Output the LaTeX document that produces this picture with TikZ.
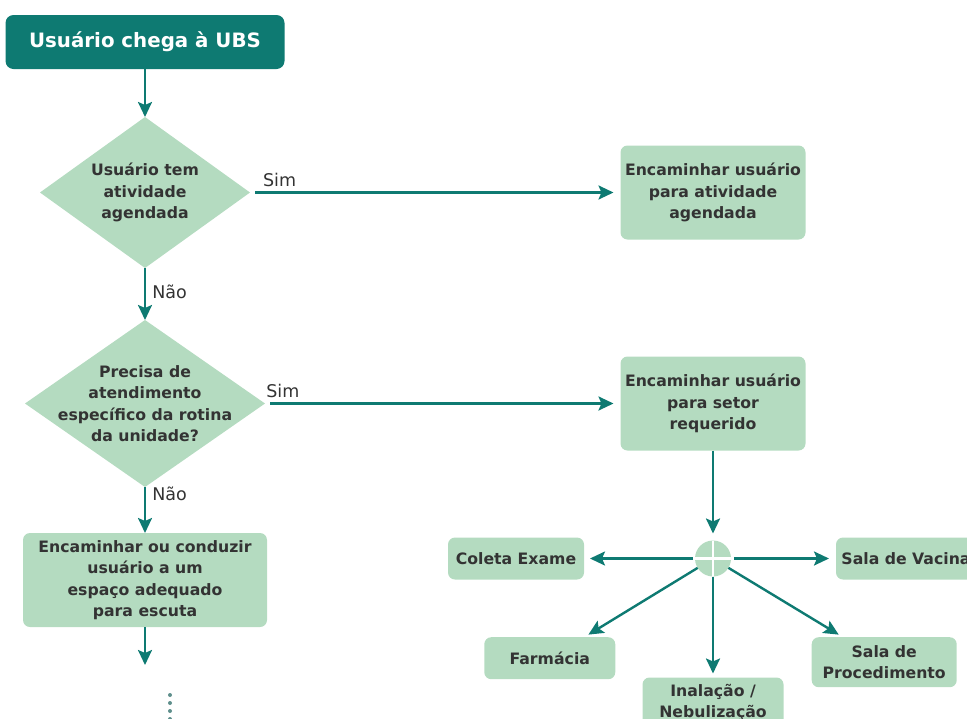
\documentclass[tikz,border=0pt]{standalone}
\usepackage{fontspec}
\setmainfont{DejaVu Sans}
\usetikzlibrary{positioning,shapes.geometric,arrows.meta}

\definecolor{ubsteal}{HTML}{0E7A72}
\definecolor{ubsgreen}{HTML}{B4DBC0}
\definecolor{ubstext}{HTML}{333333}
\definecolor{ubsdots}{HTML}{5F8F8C}

\begin{document}
\begin{tikzpicture}[x=1pt,y=1pt,
					>={Stealth[length=15pt,width=14pt,inset=3pt]},
					line width=2.4pt,
					every node/.style={outer sep=0pt},
					box font/.style={font=\bfseries\fontsize{15.7}{21.5}\selectfont},
					start node/.style={rectangle,rounded corners=8pt,fill=ubsteal,text=white,
						font=\bfseries\fontsize{19.8}{23}\selectfont,
						minimum width=279pt,minimum height=54pt},
					decision node/.style={diamond,fill=ubsgreen,text=ubstext,box font,
						align=center,inner sep=-10pt},
					task node/.style={rectangle,rounded corners=7pt,fill=ubsgreen,text=ubstext,
						box font,align=center,minimum height=94pt},
					room node/.style={rectangle,rounded corners=7pt,fill=ubsgreen,text=ubstext,
						box font,align=center,minimum height=42pt},
					hub node/.style={circle,fill=ubsgreen,minimum size=36pt,inner sep=0pt,
						path picture={\draw[white,line width=2.5pt]
							(path picture bounding box.north) -- (path picture bounding box.south)
							(path picture bounding box.west) -- (path picture bounding box.east);}},
					answer/.style={font=\fontsize{17.5}{20}\selectfont,text=ubstext}]

  \useasboundingbox (0,0) rectangle (967,-718);

  % main column
  \node[start node] (start) at (145,-42) {Usuário chega à UBS};
  \node[decision node,aspect=1.4,minimum width=210pt,minimum height=151pt] (q1) [below=48pt of start]
    {Usuário tem\\atividade\\agendada};
  \node[decision node,aspect=1.44,minimum width=240pt,minimum height=167pt] (q2) [below=52pt of q1]
    {Precisa de\\atendimento\\específico da rotina\\da unidade?};
  \node[task node,minimum width=244pt] (listen) [below=46pt of q2]
    {Encaminhar ou conduzir\\usuário a um\\espaço adequado\\para escuta};
  \coordinate[below=38pt of listen] (next);

  % right column
  \node[task node,minimum width=185pt] (agenda) [right=370.5pt of q1]
    {Encaminhar usuário\\para atividade\\agendada};
  \node[task node,minimum width=185pt] (sector) [right=355.5pt of q2]
    {Encaminhar usuário\\para setor\\requerido};
  \node[hub node] (hub) [below=90pt of sector] {};

  % sectors
  \node[room node,minimum width=136pt] (exam) [left=111pt of hub] {Coleta Exame};
  \node[room node,minimum width=140pt] (vaccine) [right=105pt of hub] {Sala de Vacina};
  \node[room node,minimum width=131pt] (pharmacy) [below left=66pt and 85pt of hub] {Farmácia};
  \node[room node,minimum width=141pt,minimum height=50pt] (inhal) [below=101pt of hub]
    {Inalação /\\Nebulização};
  \node[room node,minimum width=145pt,minimum height=50pt] (proc) [below right=66pt and 86pt of hub]
    {Sala de\\Procedimento};

  \path[->,ubsteal]
    (start)  edge (q1)
    (q1)     edge node[answer,right,pos=0.45,xshift=4pt] {Não} (q2)
             edge[shorten <=5pt,shorten >=7pt] node[answer,above,pos=0.08,yshift=2pt] {Sim} (agenda)
    (q2)     edge node[answer,right,pos=0.15,xshift=4pt] {Não} (listen)
             edge[shorten <=5pt,shorten >=7pt] node[answer,above,pos=0.05,yshift=2pt] {Sim} (sector)
    (listen) edge (next)
    (sector) edge[shorten >=7pt] (hub)
    (hub)    edge[shorten <=2pt,shorten >=6pt] (exam)
             edge[shorten <=3pt,shorten >=7pt] (vaccine)
             edge[shorten >=5pt] (pharmacy)
             edge[shorten >=4pt] (inhal)
             edge[shorten >=5pt] (proc);

  % more steps follow
  \foreach \y in {695,703,711,719}
    \fill[ubsdots] (170,-\y) circle (2pt);
\end{tikzpicture}
\end{document}
